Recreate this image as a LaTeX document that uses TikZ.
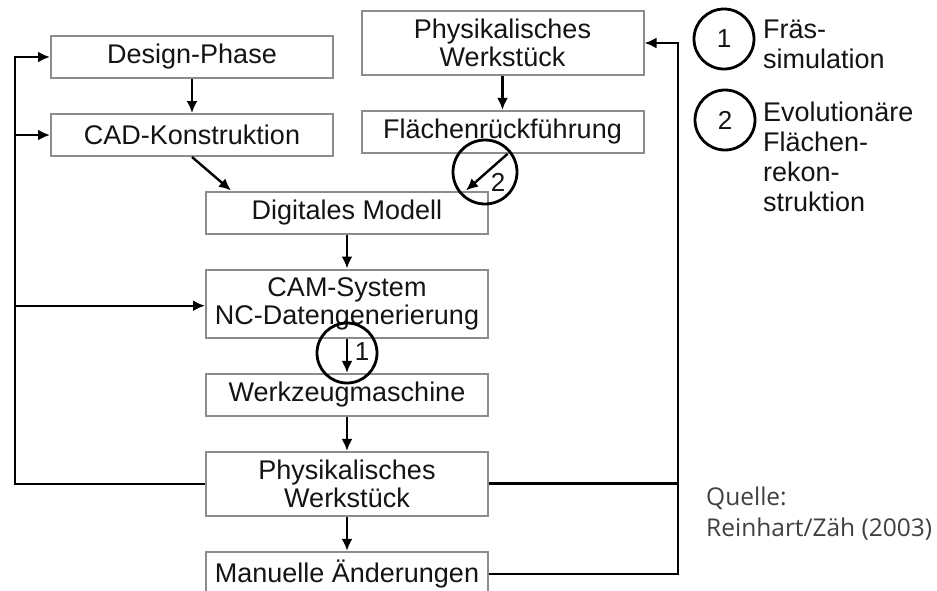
\documentclass[tikz,border=0pt]{standalone}
\usepackage{fontspec}
\setmainfont{Liberation Sans}
\newfontfamily\quellefont{Open Sans}
\usetikzlibrary{arrows.meta, positioning}
\definecolor{boxrand}{rgb}{0.55, 0.55, 0.55}
\definecolor{schrift}{rgb}{0.08, 0.08, 0.08}
\definecolor{quellgrau}{rgb}{0.25, 0.25, 0.25}

\begin{document}
\begin{tikzpicture}[
		x=1pt, y=-1pt, node distance=34pt,
		stufe/.style={draw=boxrand, line width=2pt, fill=white, text=schrift, minimum width=282pt, minimum height=42pt, inner sep=8pt, align=center, font=\fontsize{27}{28}\selectfont},
		pfeil/.style={-{Latex[length=12pt,width=11pt]}, line width=2.4pt},
		rueck/.style={line width=3pt},
		kreis/.style={circle, draw, line width=2.8pt, minimum size=60pt, inner sep=0pt},
		nummer/.style={text=schrift, inner sep=0pt, font=\fontsize{26}{26}\selectfont},
		legende/.style={text=schrift, align=left, inner sep=0pt, font=\fontsize{27}{30}\selectfont},
		quelle/.style={text=quellgrau, align=left, inner sep=0pt, font=\quellefont\fontsize{24.5}{31}\selectfont}
	]
	\path[use as bounding box, clip] (0,0) rectangle (937,590);

	% Hauptkette
	\node[stufe] (design) at (192,57) {Design-Phase};
	\node[stufe, below=of design] (cad) {CAD-Konstruktion};
	\node[stufe] (pwoben) at (502.5,43) {Physikalisches\\Werkstück};
	\node[stufe, below=of pwoben] (flaeche) {Flächenrückführung};
	\node[stufe] (digi) at (347,212.5) {Digitales Modell};
	\node[stufe, below=of digi] (cam) {CAM-System\\NC-Datengenerierung};
	\node[stufe, below=of cam] (wzm) {Werkzeugmaschine};
	\node[stufe, below=of wzm] (pwunten) {Physikalisches\\Werkstück};
	\node[stufe, below=of pwunten] (manuell) {Manuelle Änderungen};

	\draw[pfeil] (design) -- (cad);
	\draw[pfeil] (pwoben) -- (flaeche);
	\draw[pfeil] (cad.south) -- ([xshift=26pt]digi.north west);
	\draw[pfeil] ([xshift=5pt]flaeche.south) -- ([xshift=-23pt]digi.north east);
	\draw[pfeil] (digi) -- (cam);
	\draw[pfeil] (cam) -- (wzm);
	\draw[pfeil] (wzm) -- (pwunten);
	\draw[pfeil] (pwunten) -- (manuell);

	% Markierungen
	\node[kreis] (kreiseins) at (347,353) {};
	\node[nummer] (nreins) at (362,352) {1};
	\node[kreis, minimum size=64pt] (kreiszwei) at (485,172) {};
	\node[nummer] (nrzwei) at (498,182) {2};

	% Rückführungen
	\coordinate (links) at (15,0);
	\coordinate (rechts) at (678,0);
	\draw[rueck, pfeil] (pwunten.west) -- (pwunten.west -| links) |- (design.west);
	\draw[rueck, pfeil] (links |- cad.west) -- (cad.west);
	\draw[rueck, pfeil] ([yshift=-2pt]links |- cam.west) -- ([yshift=-2pt]cam.west);
	\draw[rueck, pfeil] (manuell.east) -- (manuell.east -| rechts) |- (pwoben.east);
	\draw[rueck] (pwunten.east) -- (pwunten.east -| rechts);

	% Legende
	\node[kreis, nummer, inner sep=0pt, minimum size=60pt] (legeins) at (724,39) {1};
	\node[kreis, nummer, inner sep=0pt, minimum size=60pt] (legzwei) at (725,120) {2};
	\node[legende, anchor=north west] (texteins) at (763,20) {Fräs-\\simulation};
	\node[legende, anchor=north west] (textzwei) at (763,102) {Evolutionäre\\Flächen-\\rekon-\\struktion};

	\node[quelle, anchor=north west] (quelle) at (706,487) {Quelle:\\Reinhart/Zäh (2003)};
\end{tikzpicture}
\end{document}
